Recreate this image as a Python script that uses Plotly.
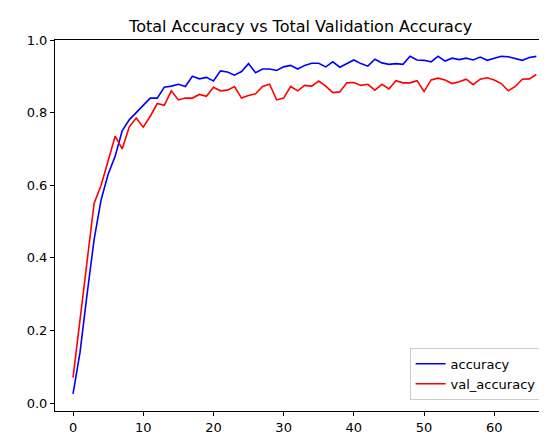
import plotly.graph_objects as go

accuracy = [0.025, 0.14, 0.30, 0.45, 0.56, 0.63, 0.68, 0.75, 0.78, 0.80, 0.82, 0.84, 0.84, 0.87, 0.873, 0.878, 0.872, 0.90, 0.893, 0.897, 0.887, 0.915, 0.912, 0.903, 0.913, 0.935, 0.91, 0.92, 0.92, 0.916, 0.926, 0.93, 0.92, 0.93, 0.936, 0.936, 0.926, 0.94, 0.925, 0.935, 0.945, 0.935, 0.928, 0.947, 0.937, 0.933, 0.935, 0.933, 0.955, 0.945, 0.944, 0.94, 0.955, 0.942, 0.95, 0.946, 0.95, 0.945, 0.953, 0.944, 0.95, 0.955, 0.954, 0.95, 0.944, 0.952, 0.955]
val_accuracy = [0.07, 0.23, 0.40, 0.55, 0.60, 0.67, 0.735, 0.70, 0.76, 0.785, 0.76, 0.79, 0.825, 0.82, 0.86, 0.835, 0.84, 0.84, 0.85, 0.845, 0.87, 0.86, 0.862, 0.872, 0.84, 0.847, 0.852, 0.872, 0.878, 0.835, 0.84, 0.872, 0.86, 0.875, 0.873, 0.887, 0.873, 0.855, 0.857, 0.882, 0.883, 0.875, 0.878, 0.862, 0.878, 0.865, 0.888, 0.882, 0.882, 0.888, 0.858, 0.89, 0.895, 0.89, 0.88, 0.885, 0.892, 0.877, 0.892, 0.896, 0.89, 0.88, 0.86, 0.872, 0.892, 0.893, 0.905]
epochs = list(range(len(accuracy)))

fig = go.Figure()
fig.add_trace(go.Scatter(x=epochs, y=accuracy, mode="lines", name="accuracy", line=dict(color="blue", width=1.6)))
fig.add_trace(go.Scatter(x=list(range(len(val_accuracy))), y=val_accuracy, mode="lines", name="val_accuracy", line=dict(color="red", width=1.6)))

axis = dict(showgrid=False, zeroline=False, showline=True, mirror=True, linecolor="black", linewidth=1, automargin=False,
            ticks="outside", ticklen=4, tickcolor="black", tickfont=dict(size=13, color="black"))
fig.update_layout(
    width=547, height=435, paper_bgcolor="white", plot_bgcolor="white",
    margin=dict(l=47, r=6, t=32, b=32),
    font=dict(family="DejaVu Sans", color="black"),
    title=dict(text="Total Accuracy vs Total Validation Accuracy", x=0.535, xanchor="center", y=0.958, yanchor="middle", font=dict(size=16)),
    xaxis=dict(axis, range=[-2.57, 67.8], tickvals=[0, 10, 20, 30, 40, 50, 60]),
    yaxis=dict(axis, range=[-0.022, 1.0], tickvals=[0, 0.2, 0.4, 0.6, 0.8, 1.0], ticktext=["0.0", "0.2", "0.4", "0.6", "0.8", "1.0"]),
    legend=dict(x=0.985, y=0.03, xanchor="right", yanchor="bottom", bordercolor="#cccccc", borderwidth=1, bgcolor="white", font=dict(size=13)),
)
fig.write_html("out.html")
